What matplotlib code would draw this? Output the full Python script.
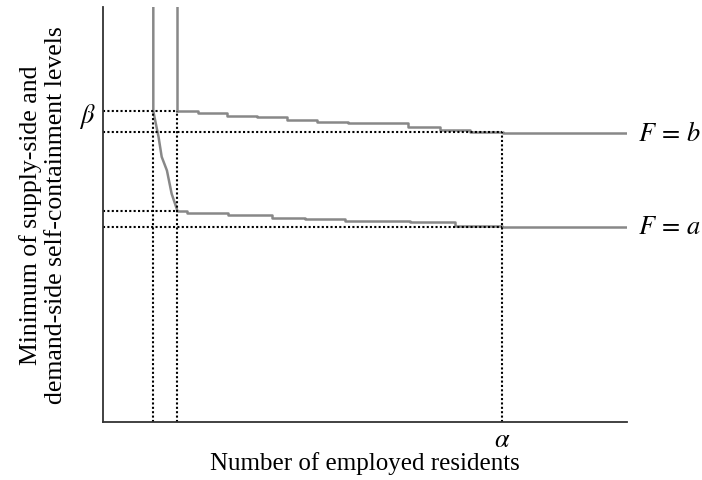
import matplotlib.pyplot as plt
import matplotlib as mpl

mpl.rcParams['font.family'] = ['Liberation Serif', 'DejaVu Serif']
mpl.rcParams['mathtext.fontset'] = 'stix'

# curve F = a: steep drop, then small steps
a_drop_x = [9.6, 9.6, 9.9, 10.6, 11.2, 12.2, 13.1, 14.2]
a_drop_y = [100, 74.9, 73.0, 68.7, 63.9, 60.6, 55.0, 50.9]
a_step_x = [14.2, 16.0, 23.9, 32.2, 38.5, 46.2, 58.6, 67.2, 76.1, 100]
a_step_y = [50.9, 50.4, 49.9, 49.2, 48.9, 48.4, 48.1, 47.3, 46.9, 46.9]

# curve F = b: vertical, then small steps
b_drop_x = [14.1, 14.1]
b_drop_y = [100, 74.9]
b_step_x = [14.1, 18.1, 23.7, 29.4, 35.1, 40.8, 46.8, 58.2, 64.3, 70.0, 76.3, 100]
b_step_y = [74.9, 74.4, 73.8, 73.4, 72.8, 72.4, 72.0, 71.0, 70.4, 70.0, 69.7, 69.7]

alpha_x = 76.1
beta_y = 74.9
x1, x2 = 9.6, 14.2
a_knee, a_level = 50.9, 46.9
b_level = 69.9

fig = plt.figure(figsize=(7.02, 4.81), dpi=100)
ax = fig.add_axes([103/702, 58/481, 524/702, 415/481])

gray = '#888888'
ax.plot(a_drop_x, a_drop_y, color=gray, lw=1.8)
ax.plot(a_step_x, a_step_y, color=gray, lw=1.8, drawstyle='steps-post')
ax.plot(b_drop_x, b_drop_y, color=gray, lw=1.8)
ax.plot(b_step_x, b_step_y, color=gray, lw=1.8, drawstyle='steps-post')

dot = dict(color='black', lw=1.5, ls=(0, (1, 1.1)))
ax.plot([0, x2], [beta_y, beta_y], **dot)
ax.plot([0, alpha_x], [b_level, b_level], **dot)
ax.plot([0, x2], [a_knee, a_knee], **dot)
ax.plot([0, alpha_x], [a_level, a_level], **dot)
ax.plot([x1, x1], [0, beta_y], **dot)
ax.plot([x2, x2], [0, beta_y], **dot)
ax.plot([alpha_x, alpha_x], [0, b_level], **dot)

ax.set_xlim(0, 100)
ax.set_ylim(0, 100)
for s in ['top', 'right']:
    ax.spines[s].set_visible(False)
for s in ['left', 'bottom']:
    ax.spines[s].set_color('#333333')
    ax.spines[s].set_linewidth(1.3)

ax.set_xticks([alpha_x])
ax.set_xticklabels([r'$\alpha$'], fontsize=19)
ax.set_yticks([beta_y])
ax.set_yticklabels([r'$\beta$'], fontsize=19)
ax.tick_params(length=0, pad=5)

ax.annotate(r'$F\,=\,b$', xy=(100, b_step_y[-1]), xytext=(8, 0),
            textcoords='offset points', va='center', fontsize=19,
            annotation_clip=False)
ax.annotate(r'$F\,=\,a$', xy=(100, a_step_y[-1]), xytext=(8, 0),
            textcoords='offset points', va='center', fontsize=19,
            annotation_clip=False)

ax.set_xlabel('Number of employed residents', fontsize=18, labelpad=0)
ax.set_ylabel('Minimum of supply-side and\ndemand-side self-containment levels',
              fontsize=18.5, labelpad=9, linespacing=1.2)

fig.savefig('out.png', dpi=100)
